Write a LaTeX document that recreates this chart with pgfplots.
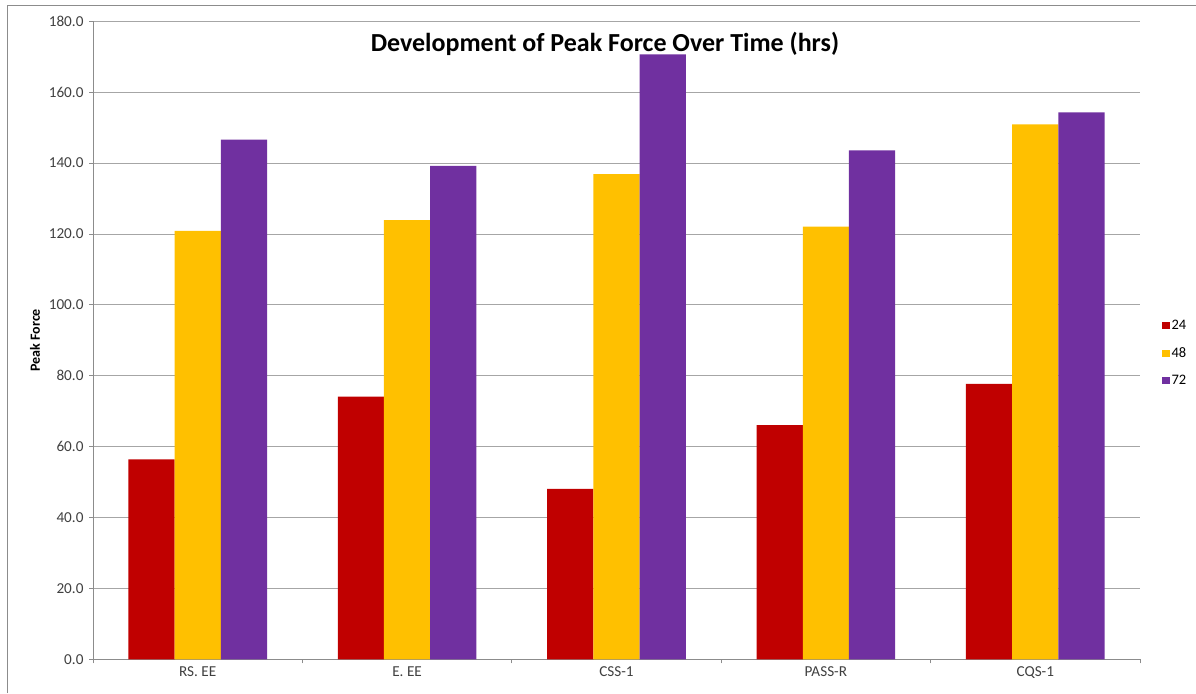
\documentclass[border=0pt]{standalone}
\usepackage{pgfplots}
\pgfplotsset{compat=1.18}
\usepackage{pgfplotstable}
\usepackage{fontspec}
\setmainfont{Carlito}
\definecolor{cred}{HTML}{C00000}
\definecolor{cyel}{HTML}{FFC000}
\definecolor{cpur}{HTML}{7030A0}
\definecolor{gridc}{HTML}{A6A6A6}
\definecolor{axc}{HTML}{8C8C8C}
\definecolor{txt}{HTML}{404040}
\pgfplotstableread{
cat r y p
0 56.4 120.9 146.6
1 74.1 123.9 139.2
2 48.1 136.9 170.7
3 66.1 122.1 143.6
4 77.7 150.9 154.3
}\datatab
\begin{document}
\begin{tikzpicture}
\useasboundingbox (0,0) rectangle (1196pt,693pt);
\draw[axc, line width=1pt] (7pt,0) -- (7pt,687.7pt) -- (1196pt,687.7pt);
\begin{axis}[
  at={(93pt,33.7pt)}, anchor=south west,
  scale only axis, width=1047pt, height=638pt,
  ybar=0pt, bar width=46.2pt,
  xmin=-0.5, xmax=4.5, ymin=0, ymax=180,
  xtick={-0.5,0.5,...,4.5},
  x tick label as interval,
  xticklabels={RS. EE, E. EE, CSS-1, PASS-R, CQS-1},
  ytick={0,20,...,180},
  yticklabel style={xshift=-2pt, /pgf/number format/.cd, fixed, fixed zerofill, precision=1, assume math mode=true},
  axis x line*=bottom, axis y line*=left,
  axis line style={axc, line width=0.8pt},
  tick style={axc, line width=0.8pt},
  tick align=outside, major tick length=4pt,
  ymajorgrids, major grid style={gridc, line width=0.8pt},
  ticklabel style={font=\fontsize{15.2}{17}\selectfont, text=txt},
  ylabel={Peak Force},
  every axis y label/.style={at={(rel axis cs:0,0.5)}, xshift=-58pt, rotate=90, anchor=center,
    font=\bfseries\fontsize{14}{16}\selectfont, text=black},
  title={Development of Peak Force Over Time (hrs)},
  title style={at={(rel axis cs:0.489,0.955)}, anchor=center, font=\bfseries\fontsize{26}{30}\selectfont},
  legend image code/.code={\fill[#1] (0pt,-3.5pt) rectangle (8pt,3.5pt);},
  legend style={at={(rel axis cs:1.0175,0.480)}, anchor=west, draw=none, fill=none,
    font=\fontsize{14.5}{17}\selectfont, row sep=12pt,
    /tikz/every even column/.append style={column sep=0pt}},
  legend cell align=left,
]
\addplot[fill=cred, draw=none] table[x=cat, y=r] {\datatab};
\addplot[fill=cyel, draw=none] table[x=cat, y=y] {\datatab};
\addplot[fill=cpur, draw=none] table[x=cat, y=p] {\datatab};
\legend{24,48,72}
\end{axis}
\end{tikzpicture}
\end{document}
